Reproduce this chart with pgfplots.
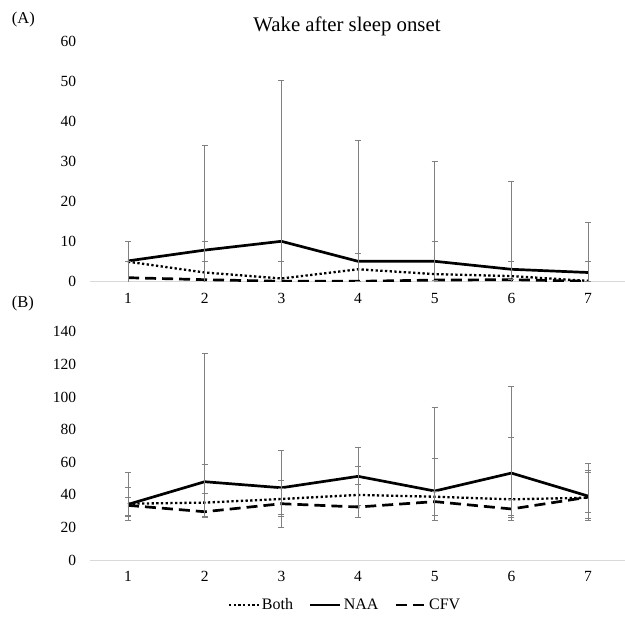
\documentclass[border=0pt]{standalone}
\usepackage{fontspec}
\setmainfont{Liberation Serif}
\usepackage{pgfplots}
\pgfplotsset{compat=1.18}
\definecolor{ebar}{RGB}{128,128,128}
\definecolor{axgray}{RGB}{217,217,217}
\pgfplotsset{
  wstyle/.style={
    scale only axis, width=536.7pt,
    xmin=0.5, xmax=7.5, xtick={1,2,3,4,5,6,7},
    axis x line*=bottom, axis y line*=left,
    x axis line style={axgray, line width=0.8pt},
    y axis line style={draw=none},
    major tick length=0pt,
    /pgf/number format/assume math mode=true,
    ticklabel style={font=\fontsize{15.5}{18}\selectfont},
    yticklabel style={anchor=east, xshift=-10pt},
    xticklabel style={yshift=-8pt},
    clip=true,
  },
  ebars/.style={
    error bars/.cd, y dir=both, y explicit,
    error bar style={ebar, line width=0.8pt, solid},
    error mark options={ebar, mark size=3pt, line width=0.8pt, rotate=90, solid},
  },
  naa/.style={black, line width=2.7pt, solid},
  both/.style={black, line width=2.3pt, dash pattern=on 2.3pt off 2.4pt},
  cfv/.style={black, line width=2.7pt, dash pattern=on 11pt off 6pt},
}
\begin{document}
\begin{tikzpicture}
\path[use as bounding box] (0,0) rectangle (625pt,619pt);
\node[anchor=base, font=\fontsize{20.8}{24}\selectfont] at (347pt,587.3pt) {Wake after sleep onset};
\node[anchor=base west, inner sep=0pt, font=\fontsize{16.5}{19}\selectfont] at (11.7pt,595pt) {(A)};
\node[anchor=base west, inner sep=0pt, font=\fontsize{16.5}{19}\selectfont] at (11.7pt,311.3pt) {(B)};

% Panel A
\begin{axis}[wstyle, at={(89.7pt,337.3pt)}, anchor=south west,
  height=240pt, ymin=0, ymax=60, ytick={0,10,20,30,40,50,60}]
\addplot[both, forget plot, ebars] table[x=x, y=y,
  y error plus expr=\thisrow{hi}-\thisrow{y},
  y error minus expr=\thisrow{y}+3] {
x y hi
1 5.0 10.1
2 2.3 10.1
3 0.8 10.1
4 3.1 7.1
5 1.9 10.1
6 1.4 5.0
7 0.2 5.0
};
\addplot[naa, forget plot, ebars] table[x=x, y=y,
  y error plus expr=\thisrow{hi}-\thisrow{y},
  y error minus expr=\thisrow{y}+3] {
x y hi
1 5.2 10.1
2 7.9 34.1
3 10.1 50.25
4 5.1 35.25
5 5.1 30.1
6 3.1 25.1
7 2.3 14.9
};
\addplot[cfv, forget plot, ebars] table[x=x, y=y,
  y error plus expr=\thisrow{hi}-\thisrow{y},
  y error minus expr=\thisrow{y}+3] {
x y hi
1 1.0 5.0
2 0.5 5.0
3 0.1 5.0
4 0.1 0.1
5 0.4 0.4
6 0.5 0.5
7 0.1 0.1
};
\end{axis}

% Panel B
\begin{axis}[wstyle, at={(89.7pt,59pt)}, anchor=south west,
  height=228.3pt, ymin=0, ymax=140, ytick={0,20,40,60,80,100,120,140},
  legend columns=3,
  legend style={draw=none, fill=none, at={(0.4757,-0.197)}, anchor=center,
    font=\fontsize{16}{18}\selectfont,
    /tikz/every even column/.append style={column sep=14pt}},
  legend image code/.code={\draw[#1] (0pt,0pt) -- (30pt,0pt);},
]
\addplot[both, ebars] table[x=x, y=y,
  y error plus expr=\thisrow{hi}-\thisrow{y},
  y error minus expr=\thisrow{y}-\thisrow{lo}] {
x y hi lo
1 34.5 44.3 27.0
2 35.2 58.5 27.0
3 37.4 49.0 28.0
4 39.9 57.2 33.5
5 38.8 62.3 27.2
6 37.2 75.2 27.2
7 38.2 55.0 24.5
};
\addlegendentry{Both}
\addplot[naa, ebars] table[x=x, y=y,
  y error plus expr=\thisrow{hi}-\thisrow{y},
  y error minus expr=\thisrow{y}-\thisrow{lo}] {
x y hi lo
1 34.1 53.5 24.3
2 48.0 126.7 25.9
3 44.3 67.0 20.0
4 51.3 69.0 26.4
5 42.3 93.6 24.5
6 53.3 106.3 24.5
7 39.2 59.3 25.8
};
\addlegendentry{NAA}
\addplot[cfv, ebars] table[x=x, y=y,
  y error plus expr=\thisrow{hi}-\thisrow{y},
  y error minus expr=\thisrow{y}-\thisrow{lo}] {
x y hi lo
1 33.5 38.2 27.5
2 29.6 40.9 26.5
3 34.5 43.9 26.6
4 32.5 46.6 26.4
5 35.8 42.3 27.2
6 31.3 37.2 26.0
7 38.5 54.0 29.0
};
\addlegendentry{CFV}
\end{axis}
\end{tikzpicture}
\end{document}
